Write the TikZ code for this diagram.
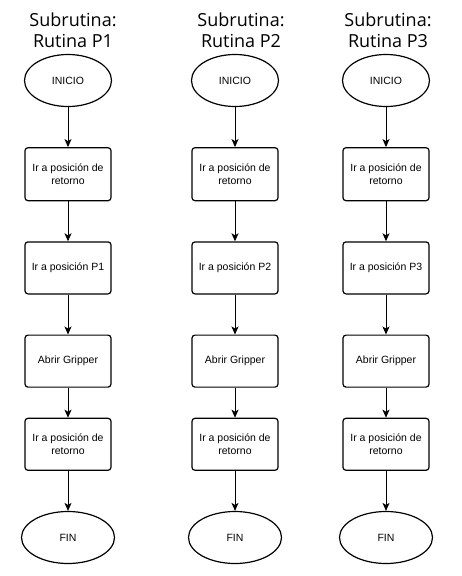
\documentclass[tikz,border=0pt]{standalone}
\usepackage{fontspec}
\setmainfont{Liberation Sans}
\newfontfamily\titlefont{Open Sans}
\usetikzlibrary{positioning,shapes.geometric,arrows.meta}

\begin{document}
\begin{tikzpicture}[x=1pt,y=-1pt,>={Stealth[length=8pt,width=7pt,inset=2pt]},
		every node/.style={font=\fontsize{10.5}{13}\selectfont},
		term/.style={draw,ellipse,line width=1.2pt,inner sep=0pt,minimum width=87pt,minimum height=52pt},
		stepbox/.style={draw,rectangle,rounded corners=3pt,line width=1.2pt,inner sep=0pt,minimum width=86pt,minimum height=52pt,align=center},
		title/.style={align=center,inner sep=0pt,font=\titlefont\fontsize{18}{21}\selectfont},
		flow/.style={->,line width=1pt},
		node distance=40pt]
			\useasboundingbox (0,0) rectangle (462,576);

			% The three columns
			\foreach \i/\x/\t in {1/68/73,2/235/241,3/386/388}{
				\node[title] (tit\i) at (\t,30) {Subrutina:\\Rutina P\i};

				\node[term] (ini\i) at (\x,80.5) {INICIO};
				\node[stepbox, below=of ini\i, minimum height=53pt] (ret\i) {Ir a posición de\\retorno};
				\node[stepbox, below=of ret\i] (pos\i) {Ir a posición P\i};
				\node[stepbox, below=of pos\i] (grip\i) {Abrir Gripper};
				\node[stepbox, below=30pt of grip\i] (back\i) {Ir a posición de\\retorno};
				\node[term, below=of back\i, minimum width=93pt] (fin\i) {FIN};

				% The arrows
				\draw[flow] (ini\i) -- (ret\i);
				\draw[flow] (ret\i) -- (pos\i);
				\draw[flow] (pos\i) -- (grip\i);
				\draw[flow] (grip\i) -- (back\i);
				\draw[flow] (back\i) -- (fin\i);
			}
		\end{tikzpicture}
\end{document}
